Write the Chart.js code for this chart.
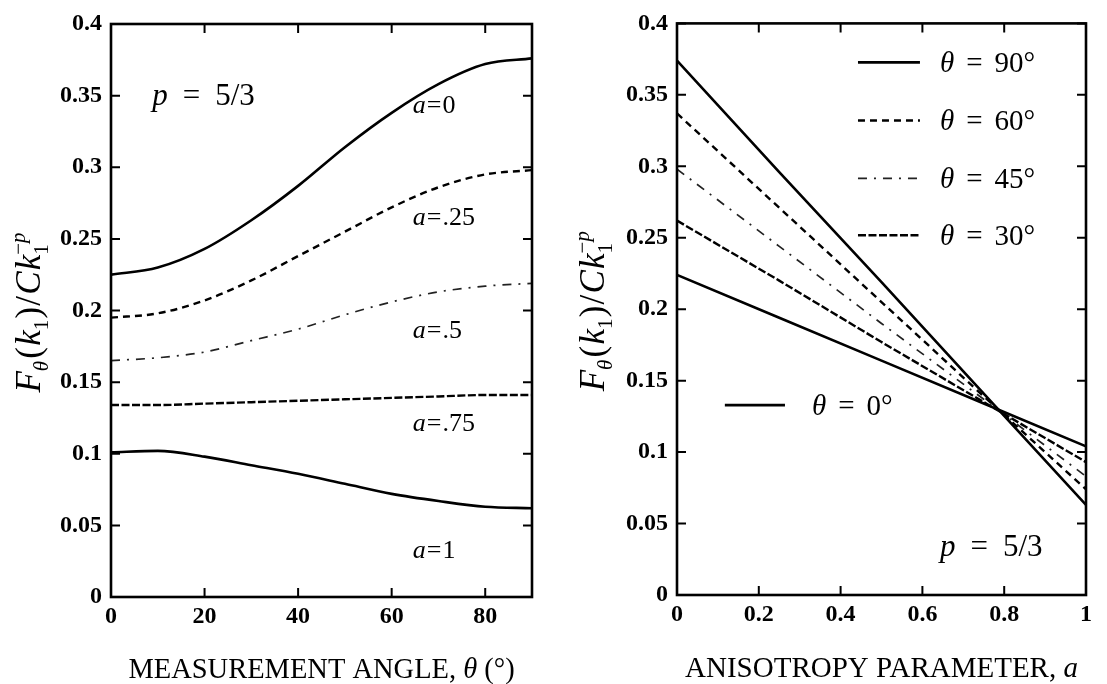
<!DOCTYPE html>
<html><head><meta charset="utf-8">
<script src="https://cdn.jsdelivr.net/npm/chart.js@4.4.0/dist/chart.umd.min.js"></script>
<style>
html,body{margin:0;padding:0;background:#fff;width:1107px;height:684px;overflow:hidden}
canvas{position:absolute;top:0}
#cL{left:0}
#cR{left:560px}
</style></head><body>
<canvas id="cL" width="560" height="684" style="width:560px;height:684px"></canvas>
<canvas id="cR" width="547" height="684" style="width:547px;height:684px"></canvas>
<script>
// ---------- data ----------
// Left panel: F vs measurement angle theta (deg), one curve per anisotropy a
const thetaDeg = [0, 10, 20, 30, 40, 50, 60, 70, 80, 90];
const fA0   = [0.225, 0.230, 0.243, 0.263, 0.287, 0.314, 0.338, 0.358, 0.372, 0.376];
const fA25  = [0.195, 0.198, 0.207, 0.221, 0.238, 0.255, 0.272, 0.286, 0.295, 0.298];
const fA50  = [0.165, 0.167, 0.171, 0.179, 0.187, 0.197, 0.206, 0.213, 0.217, 0.219];
const fA75  = [0.134, 0.134, 0.135, 0.136, 0.137, 0.138, 0.139, 0.140, 0.141, 0.141];
const fA100 = [0.101, 0.102, 0.098, 0.092, 0.086, 0.079, 0.072, 0.067, 0.063, 0.062];
const aCurveLabels = ['0', '.25', '.5', '.75', '1'];
const aLabelAt = [0.344, 0.266, 0.187, 0.122, 0.033];   // label centre values

// Right panel: F vs anisotropy parameter a, one line per theta
const anisoA = [0, 0.25, 0.5, 0.75, 1];
const fT90 = [0.374, 0.296, 0.219, 0.141, 0.063];
const fT60 = [0.337, 0.271, 0.205, 0.139, 0.074];
const fT45 = [0.298, 0.244, 0.190, 0.137, 0.083];
const fT30 = [0.262, 0.220, 0.177, 0.135, 0.093];
const fT0  = [0.224, 0.194, 0.164, 0.134, 0.104];
const thetaLegend = ['90°', '60°', '45°', '30°', '0°'];

// ---------- helpers ----------
const SERIF = "'Liberation Serif','Times New Roman',serif";
const N = s => s + 'px ' + SERIF;
const I = s => 'italic ' + s + 'px ' + SERIF;
const fmt = v => String(parseFloat(Number(v).toFixed(2)));
const pts = (xs, ys) => xs.map((x, i) => ({x: x, y: ys[i]}));

const STY = {
  solid:   {borderDash: [], borderWidth: 2.6, borderColor: '#000'},
  dashed:  {borderDash: [7, 5], borderWidth: 2.4, borderColor: '#000'},
  dashdot: {borderDash: [9, 7, 2, 7], borderWidth: 1.7, borderColor: '#222'},
  dense:   {borderDash: [8, 2.5], borderWidth: 2.4, borderColor: '#000'}
};

function runsWidth(ctx, runs) {
  let x = 0;
  for (const r of runs) { ctx.font = r.f; const w = ctx.measureText(r.t).width; if (!r.back) x += w + (r.gap || 0); }
  return x;
}
function drawRuns(ctx, runs, x, y, align) {
  const w = runsWidth(ctx, runs);
  let cx = align === 'center' ? x - w / 2 : (align === 'right' ? x - w : x);
  ctx.textAlign = 'left'; ctx.textBaseline = 'alphabetic'; ctx.fillStyle = '#000';
  for (const r of runs) {
    ctx.font = r.f;
    ctx.fillText(r.t, cx, y + (r.dy || 0));
    const rw = ctx.measureText(r.t).width;
    if (!r.back) cx += rw + (r.gap || 0);
  }
}
function yTitleRuns() {
  const B = 35, S = 21, g = 1.2;
  return [
    {t: 'F', f: I(B), gap: 0}, {t: 'θ', f: I(S), dy: 8, gap: g + 1}, {t: '(', f: N(B), gap: g},
    {t: 'k', f: I(B), gap: 0}, {t: '1', f: N(S), dy: 8, gap: g}, {t: ')', f: N(B), gap: g},
    {t: '/', f: N(B), gap: g}, {t: 'C', f: I(B), gap: g}, {t: 'k', f: I(B), gap: 0},
    {t: '1', f: N(S), dy: 8, back: true}, {t: '−', f: N(S), dy: -15}, {t: 'p', f: I(S), dy: -15}
  ];
}

const deco = {
  id: 'deco',
  afterDraw(chart, args, o) {
    const {ctx, chartArea: ca, scales: {x, y}} = chart;
    ctx.save();
    ctx.strokeStyle = '#000';
    ctx.lineWidth = 2;
    const TL = 9;
    ctx.beginPath();
    x.ticks.forEach(t => {
      const p = x.getPixelForValue(t.value);
      ctx.moveTo(p, ca.bottom); ctx.lineTo(p, ca.bottom - TL);
      ctx.moveTo(p, ca.top); ctx.lineTo(p, ca.top + TL);
    });
    y.ticks.forEach(t => {
      const p = y.getPixelForValue(t.value);
      ctx.moveTo(ca.left, p); ctx.lineTo(ca.left + TL, p);
      ctx.moveTo(ca.right, p); ctx.lineTo(ca.right - TL, p);
    });
    ctx.stroke();
    ctx.lineWidth = 2.6;
    ctx.strokeRect(ca.left, ca.top, ca.right - ca.left, ca.bottom - ca.top);

    // annotations in data coordinates
    (o.texts || []).forEach(t => {
      drawRuns(ctx, t.runs, x.getPixelForValue(t.x), y.getPixelForValue(t.y) + t.size * 0.33, t.align || 'left');
    });
    // legend (right panel)
    (o.legend || []).forEach(L => {
      const ds = chart.data.datasets[L.ds];
      const py = y.getPixelForValue(L.y);
      ctx.save();
      ctx.strokeStyle = ds.borderColor; ctx.lineWidth = ds.borderWidth;
      ctx.setLineDash(ds.borderDash || []);
      ctx.beginPath();
      ctx.moveTo(x.getPixelForValue(L.x1), py); ctx.lineTo(x.getPixelForValue(L.x2), py);
      ctx.stroke();
      ctx.restore();
      drawRuns(ctx, L.runs, x.getPixelForValue(L.tx), py + 29 * 0.34, 'left');
    });
    // x title
    drawRuns(ctx, o.xTitle, (ca.left + ca.right) / 2, ca.bottom + o.xTitleDy, 'center');
    // y title (rotated)
    ctx.save();
    ctx.translate(o.yTitleX, (ca.top + ca.bottom) / 2 + 2);
    ctx.rotate(-Math.PI / 2);
    drawRuns(ctx, yTitleRuns(), 0, 12, 'center');
    ctx.restore();
    ctx.restore();
  }
};

function scaleOpts(xmin, xmax, xstep, yW, xH) {
  const tickFont = {family: SERIF, size: 24, weight: 'bold'};
  return {
    x: {type: 'linear', min: xmin, max: xmax,
        grid: {display: false, drawTicks: false}, border: {display: false},
        ticks: {stepSize: xstep, includeBounds: false, padding: 5, color: '#000', font: tickFont,
                maxRotation: 0, autoSkip: false, callback: v => fmt(v)},
        afterFit: s => { s.height = xH; }},
    y: {type: 'linear', min: 0, max: 0.4,
        grid: {display: false, drawTicks: false}, border: {display: false},
        ticks: {stepSize: 0.05, padding: 9, color: '#000', font: tickFont, autoSkip: false,
                callback: v => fmt(v)},
        afterFit: s => { s.width = yW; }}
  };
}

const aRuns = v => [{t: 'a', f: I(26), gap: 1}, {t: '=', f: N(26), gap: 1}, {t: v, f: N(26)}];
const pRuns = [{t: 'p', f: I(31), gap: 15}, {t: '=', f: N(31), gap: 15}, {t: '5/3', f: N(31)}];
const thRuns = v => [{t: 'θ', f: I(29), gap: 12}, {t: '=', f: N(29), gap: 12}, {t: v, f: N(29)}];

// ---------- left chart ----------
const leftSets = [fA0, fA25, fA50, fA75, fA100];
const leftStyles = [STY.solid, STY.dashed, STY.dashdot, STY.dense, STY.solid];
new Chart(document.getElementById('cL'), {
  type: 'line',
  data: {datasets: leftSets.map((arr, i) => Object.assign({
    label: 'a=' + aCurveLabels[i], data: pts(thetaDeg, arr), pointRadius: 0, fill: false,
    cubicInterpolationMode: 'monotone'}, leftStyles[i]))},
  options: {
    responsive: false, animation: false, devicePixelRatio: 1,
    layout: {padding: {left: 0, top: 24, right: 28, bottom: 0}},
    plugins: {legend: {display: false}, tooltip: {enabled: false},
      deco: {
        texts: [{x: 8.8, y: 0.3505, size: 31, runs: pRuns}].concat(
          aCurveLabels.map((v, i) => ({x: 64.5, y: aLabelAt[i], size: 26, runs: aRuns(v)}))),
        xTitle: [{t: 'MEASUREMENT ANGLE, ', f: N(28.5)}, {t: 'θ', f: I(28.5), gap: 7}, {t: '(°)', f: N(28.5)}],
        xTitleDy: 81, yTitleX: 28
      }},
    scales: scaleOpts(0, 90, 20, 111, 87)
  },
  plugins: [deco]
});

// ---------- right chart ----------
const rightSets = [fT90, fT60, fT45, fT30, fT0];
const rightStyles = [STY.solid, STY.dashed, STY.dashdot, STY.dense, STY.solid];
const legendY = [0.3727, 0.332, 0.2916, 0.2517, 0.1329];
new Chart(document.getElementById('cR'), {
  type: 'line',
  data: {datasets: rightSets.map((arr, i) => Object.assign({
    label: 'θ = ' + thetaLegend[i], data: pts(anisoA, arr), pointRadius: 0, fill: false, tension: 0},
    rightStyles[i]))},
  options: {
    responsive: false, animation: false, devicePixelRatio: 1,
    layout: {padding: {left: 0, top: 23, right: 21, bottom: 0}},
    plugins: {legend: {display: false}, tooltip: {enabled: false},
      deco: {
        texts: [{x: 0.643, y: 0.0345, size: 31, runs: pRuns}],
        legend: thetaLegend.map((v, i) => i < 4
          ? {ds: i, y: legendY[i], x1: 0.4425, x2: 0.594, tx: 0.643, runs: thRuns(v)}
          : {ds: i, y: legendY[i], x1: 0.117, x2: 0.264, tx: 0.330, runs: thRuns(v)}),
        xTitle: [{t: 'ANISOTROPY PARAMETER, ', f: N(29)}, {t: 'a', f: I(29)}],
        xTitleDy: 82, yTitleX: 32
      }},
    scales: scaleOpts(0, 1, 0.2, 117, 89)
  },
  plugins: [deco]
});
</script>
</body></html>
